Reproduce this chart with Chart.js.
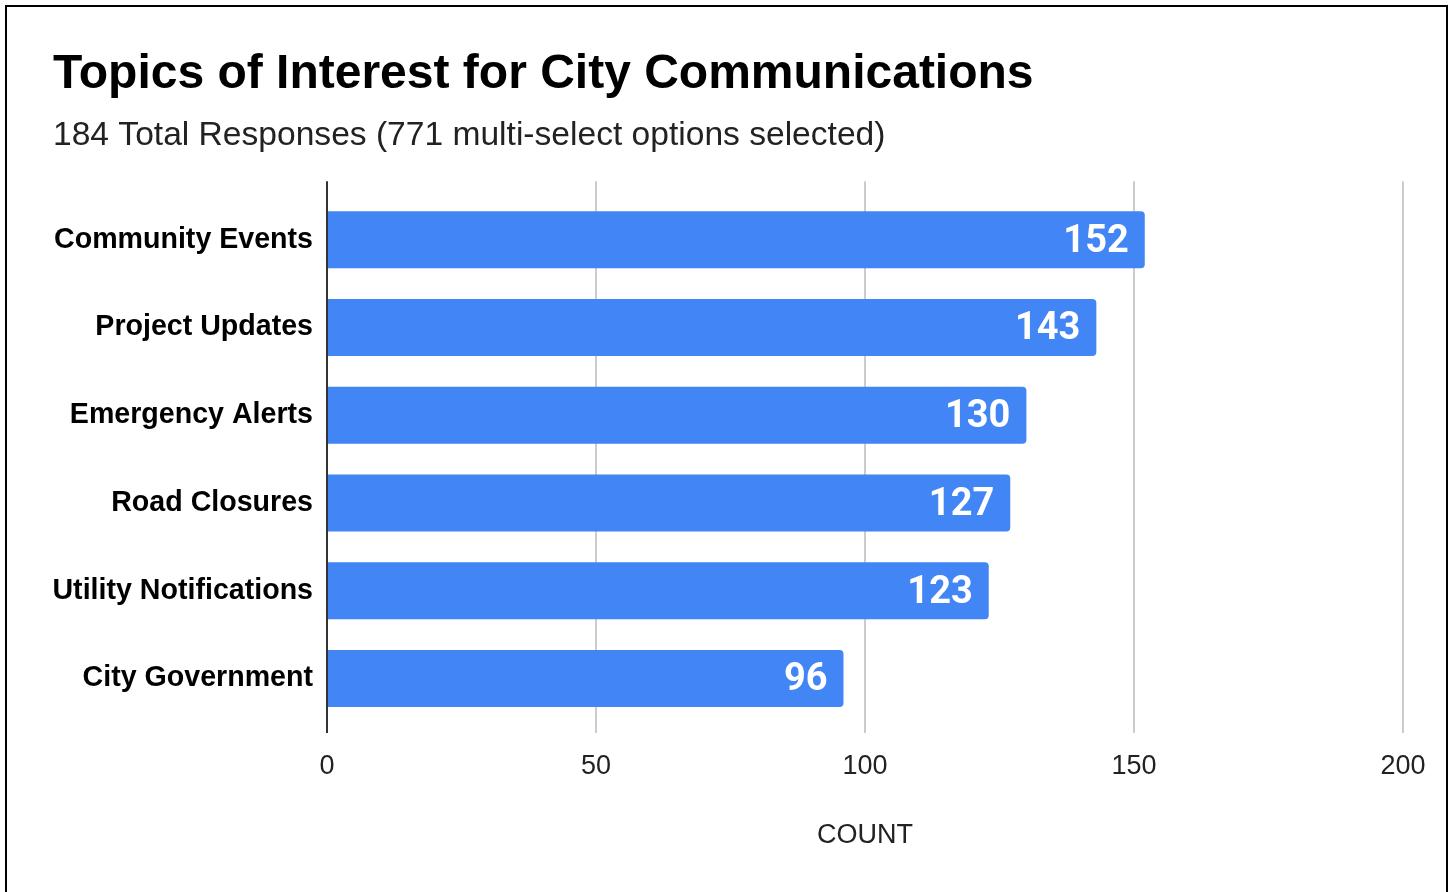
<!DOCTYPE html>
<html>
<head>
<meta charset="utf-8">
<title>Topics of Interest for City Communications</title>
<script src="https://cdn.jsdelivr.net/npm/chart.js@4/dist/chart.umd.min.js"></script>
<style>
  html, body { margin: 0; padding: 0; background: #fff; overflow: hidden; }
  #chart { position: absolute; left: 0; top: 0; }
  .frame {
    position: absolute; left: 5px; top: 5px; width: 1443px; height: 900px;
    border: 2px solid #000; box-sizing: border-box; pointer-events: none;
  }
</style>
</head>
<body>
<canvas id="chart" width="1455" height="892"></canvas>
<div class="frame"></div>
<script>
const categories = [
    'Community Events',
    'Project Updates',
    'Emergency Alerts',
    'Road Closures',
    'Utility Notifications',
    'City Government'
];
const counts = [152, 143, 130, 127, 123, 96];
const countTicks = [0, 50, 100, 150, 200];

const titleText = 'Topics of Interest for City Communications';
const subtitleText = '184 Total Responses (771 multi-select options selected)';
const axisTitle = 'COUNT';

const SANS = "'Liberation Sans', Arial, sans-serif";
Chart.defaults.font.family = SANS;

// zero line is dark, the rest light grey
function gridColor(ctx) {
    return ctx.tick && ctx.tick.value === 0 ? '#333333' : '#cccccc';
}

function useCountTicks(scale) {
    scale.ticks = countTicks.map(v => ({ value: v }));
}

// white count printed inside the end of each bar
const valueLabels = {
    id: 'valueLabels',
    afterDatasetsDraw(chart) {
        const { ctx } = chart;
        const meta = chart.getDatasetMeta(0);
        ctx.save();
        ctx.font = 'bold 38px Roboto, ' + SANS;
        ctx.fillStyle = '#ffffff';
        ctx.textAlign = 'right';
        ctx.textBaseline = 'middle';
        meta.data.forEach((bar, i) => {
            ctx.fillText(String(counts[i]), bar.x - 16, bar.y + 2.5);
        });
        ctx.restore();
    }
};

new Chart(document.getElementById('chart'), {
    type: 'bar',
    data: {
        labels: categories,
        datasets: [{
            data: counts,
            backgroundColor: '#4285f4',
            borderRadius: 4,
            borderSkipped: 'start',
            categoryPercentage: 1,
            barPercentage: 0.65
        }]
    },
    options: {
        indexAxis: 'y',
        responsive: false,
        animation: false,
        layout: { padding: { left: 53, right: 52, top: 46, bottom: 40.5 } },
        plugins: {
            legend: { display: false },
            tooltip: { enabled: false },
            title: {
                display: true,
                text: titleText,
                align: 'start',
                color: '#000000',
                font: { family: SANS, size: 48, weight: 'bold', lineHeight: 1.2 },
                padding: { top: 0, bottom: 0 }
            },
            subtitle: {
                display: true,
                text: subtitleText,
                align: 'start',
                color: '#222222',
                font: { family: SANS, size: 33.6, weight: 'normal', lineHeight: 1.2 },
                padding: { top: 12, bottom: 25.3 }
            }
        },
        scales: {
            x: {
                position: 'bottom',
                min: countTicks[0],
                max: countTicks[countTicks.length - 1],
                afterBuildTicks: useCountTicks,
                border: { display: false },
                grid: { color: gridColor, lineWidth: 2, tickLength: 10.6 },
                ticks: { color: '#222222', padding: 17.1, font: { size: 27, lineHeight: 1.2 } },
                title: {
                    display: true,
                    text: axisTitle,
                    color: '#222222',
                    font: { size: 27, lineHeight: 1.2 },
                    padding: { top: 19.6, bottom: 0 }
                }
            },
            // only carries the short grid stubs above the first bar
            x2: {
                position: 'top',
                min: countTicks[0],
                max: countTicks[countTicks.length - 1],
                afterBuildTicks: useCountTicks,
                border: { display: false },
                grid: { color: gridColor, lineWidth: 2, tickLength: 14.6, drawOnChartArea: false },
                ticks: { display: false }
            },
            y: {
                border: { display: false },
                grid: { display: false, drawTicks: false },
                ticks: { color: '#000000', padding: 14, font: { size: 28.6, weight: 'bold' } },
                afterFit(scale) { scale.width = 274; }
            }
        }
    },
    plugins: [valueLabels]
});
</script>
</body>
</html>
